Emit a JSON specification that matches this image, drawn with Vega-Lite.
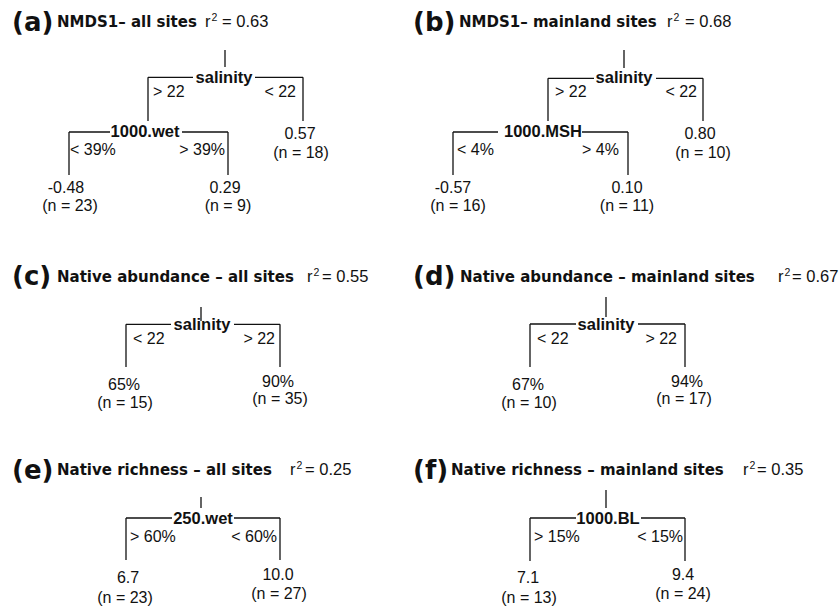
{
  "$schema": "https://vega.github.io/schema/vega-lite/v6.json",
  "width": 839,
  "height": 609,
  "autosize": "none",
  "padding": 0,
  "background": "white",
  "config": {"view": {"stroke": null}},
  "datasets": {
    "segs": [
      {"panel": "a", "x": 225, "y": 50, "x2": 225, "y2": 67},
      {"panel": "a", "x": 148, "y": 77.3, "x2": 193, "y2": 77.3},
      {"panel": "a", "x": 255, "y": 77.3, "x2": 303, "y2": 77.3},
      {"panel": "a", "x": 148, "y": 77.3, "x2": 148, "y2": 121},
      {"panel": "a", "x": 303, "y": 77.3, "x2": 303, "y2": 121},
      {"panel": "a", "x": 69, "y": 132, "x2": 110, "y2": 132},
      {"panel": "a", "x": 182, "y": 132, "x2": 228, "y2": 132},
      {"panel": "a", "x": 69, "y": 132, "x2": 69, "y2": 175},
      {"panel": "a", "x": 228, "y": 132, "x2": 228, "y2": 175},
      {"panel": "b", "x": 624, "y": 50, "x2": 624, "y2": 68},
      {"panel": "b", "x": 548, "y": 78.3, "x2": 594, "y2": 78.3},
      {"panel": "b", "x": 656, "y": 78.3, "x2": 703, "y2": 78.3},
      {"panel": "b", "x": 548, "y": 78.3, "x2": 548, "y2": 121},
      {"panel": "b", "x": 703, "y": 78.3, "x2": 703, "y2": 121},
      {"panel": "b", "x": 453, "y": 132, "x2": 498, "y2": 132},
      {"panel": "b", "x": 582, "y": 132, "x2": 628, "y2": 132},
      {"panel": "b", "x": 453, "y": 132, "x2": 453, "y2": 175},
      {"panel": "b", "x": 628, "y": 132, "x2": 628, "y2": 175},
      {"panel": "c", "x": 201, "y": 307, "x2": 201, "y2": 321},
      {"panel": "c", "x": 126, "y": 324.3, "x2": 171, "y2": 324.3},
      {"panel": "c", "x": 234, "y": 324.3, "x2": 280, "y2": 324.3},
      {"panel": "c", "x": 126, "y": 324.3, "x2": 126, "y2": 367},
      {"panel": "c", "x": 280, "y": 324.3, "x2": 280, "y2": 367},
      {"panel": "d", "x": 606, "y": 297, "x2": 606, "y2": 317},
      {"panel": "d", "x": 530, "y": 324, "x2": 576, "y2": 324},
      {"panel": "d", "x": 638, "y": 324, "x2": 685, "y2": 324},
      {"panel": "d", "x": 530, "y": 324, "x2": 530, "y2": 367},
      {"panel": "d", "x": 685, "y": 324, "x2": 685, "y2": 367},
      {"panel": "e", "x": 201, "y": 497, "x2": 201, "y2": 508},
      {"panel": "e", "x": 126, "y": 518, "x2": 172, "y2": 518},
      {"panel": "e", "x": 234, "y": 518, "x2": 280, "y2": 518},
      {"panel": "e", "x": 126, "y": 518, "x2": 126, "y2": 560},
      {"panel": "e", "x": 280, "y": 518, "x2": 280, "y2": 560},
      {"panel": "f", "x": 606, "y": 490, "x2": 606, "y2": 508},
      {"panel": "f", "x": 530, "y": 518, "x2": 576, "y2": 518},
      {"panel": "f", "x": 641, "y": 518, "x2": 685, "y2": 518},
      {"panel": "f", "x": 530, "y": 518, "x2": 530, "y2": 561},
      {"panel": "f", "x": 685, "y": 518, "x2": 685, "y2": 561}
    ],
    "labels": [
      {"kind": "letter", "x": 12, "y": 30.7, "text": "(a)"},
      {"kind": "title", "x": 57, "y": 27.3, "text": "NMDS1– all sites"},
      {"kind": "r2r", "x": 205, "y": 27.3, "text": "r"},
      {"kind": "r2sup", "x": 211.5, "y": 27.3, "text": "2"},
      {"kind": "r2val", "x": 222, "y": 27.3, "text": "= 0.63"},
      {"kind": "split", "x": 224, "y": 83.3, "text": "salinity"},
      {"kind": "condL", "x": 153, "y": 96.7, "text": "> 22"},
      {"kind": "condR", "x": 296, "y": 96.7, "text": "< 22"},
      {"kind": "split", "x": 145, "y": 137.3, "text": "1000.wet"},
      {"kind": "condL", "x": 70, "y": 155, "text": "< 39%"},
      {"kind": "condR", "x": 225, "y": 155, "text": "> 39%"},
      {"kind": "leaf", "x": 66, "y": 193, "text": "-0.48"},
      {"kind": "leaf", "x": 70, "y": 211, "text": "(n = 23)"},
      {"kind": "leaf", "x": 225, "y": 193, "text": "0.29"},
      {"kind": "leaf", "x": 228, "y": 211, "text": "(n = 9)"},
      {"kind": "leaf", "x": 300, "y": 139, "text": "0.57"},
      {"kind": "leaf", "x": 301, "y": 158, "text": "(n = 18)"},

      {"kind": "letter", "x": 413, "y": 30.7, "text": "(b)"},
      {"kind": "title", "x": 459, "y": 27.3, "text": "NMDS1– mainland sites"},
      {"kind": "r2r", "x": 667, "y": 27.3, "text": "r"},
      {"kind": "r2sup", "x": 673.5, "y": 27.3, "text": "2"},
      {"kind": "r2val", "x": 685, "y": 27.3, "text": "= 0.68"},
      {"kind": "split", "x": 624, "y": 83.3, "text": "salinity"},
      {"kind": "condL", "x": 555, "y": 96.7, "text": "> 22"},
      {"kind": "condR", "x": 697, "y": 96.7, "text": "< 22"},
      {"kind": "split", "x": 543, "y": 137.3, "text": "1000.MSH"},
      {"kind": "condL", "x": 457, "y": 155, "text": "< 4%"},
      {"kind": "condR", "x": 619, "y": 155, "text": "> 4%"},
      {"kind": "leaf", "x": 453, "y": 193, "text": "-0.57"},
      {"kind": "leaf", "x": 458, "y": 211, "text": "(n = 16)"},
      {"kind": "leaf", "x": 627, "y": 193, "text": "0.10"},
      {"kind": "leaf", "x": 627, "y": 211, "text": "(n = 11)"},
      {"kind": "leaf", "x": 700, "y": 139, "text": "0.80"},
      {"kind": "leaf", "x": 703, "y": 158, "text": "(n = 10)"},

      {"kind": "letter", "x": 12, "y": 285, "text": "(c)"},
      {"kind": "title", "x": 57, "y": 281.7, "text": "Native abundance – all sites"},
      {"kind": "r2r", "x": 307, "y": 281.7, "text": "r"},
      {"kind": "r2sup", "x": 313.5, "y": 281.7, "text": "2"},
      {"kind": "r2val", "x": 322, "y": 281.7, "text": "= 0.55"},
      {"kind": "split", "x": 202, "y": 330.3, "text": "salinity"},
      {"kind": "condL", "x": 133, "y": 344, "text": "< 22"},
      {"kind": "condR", "x": 275, "y": 344, "text": "> 22"},
      {"kind": "leaf", "x": 124, "y": 390, "text": "65%"},
      {"kind": "leaf", "x": 125, "y": 407.7, "text": "(n = 15)"},
      {"kind": "leaf", "x": 278, "y": 386.7, "text": "90%"},
      {"kind": "leaf", "x": 280, "y": 404.3, "text": "(n = 35)"},

      {"kind": "letter", "x": 413, "y": 285, "text": "(d)"},
      {"kind": "title", "x": 460, "y": 281.7, "text": "Native abundance – mainland sites"},
      {"kind": "r2r", "x": 778, "y": 281.7, "text": "r"},
      {"kind": "r2sup", "x": 784.5, "y": 281.7, "text": "2"},
      {"kind": "r2val", "x": 792, "y": 281.7, "text": "= 0.67"},
      {"kind": "split", "x": 606, "y": 330.3, "text": "salinity"},
      {"kind": "condL", "x": 537, "y": 344, "text": "< 22"},
      {"kind": "condR", "x": 677, "y": 344, "text": "> 22"},
      {"kind": "leaf", "x": 528, "y": 390, "text": "67%"},
      {"kind": "leaf", "x": 529, "y": 407.7, "text": "(n = 10)"},
      {"kind": "leaf", "x": 687, "y": 386.7, "text": "94%"},
      {"kind": "leaf", "x": 684, "y": 404.3, "text": "(n = 17)"},

      {"kind": "letter", "x": 12, "y": 478.5, "text": "(e)"},
      {"kind": "title", "x": 57, "y": 475, "text": "Native richness – all sites"},
      {"kind": "r2r", "x": 290, "y": 475, "text": "r"},
      {"kind": "r2sup", "x": 296.5, "y": 475, "text": "2"},
      {"kind": "r2val", "x": 305, "y": 475, "text": "= 0.25"},
      {"kind": "split", "x": 203, "y": 524, "text": "250.wet"},
      {"kind": "condL", "x": 130, "y": 541.7, "text": "> 60%"},
      {"kind": "condR", "x": 277, "y": 541.7, "text": "< 60%"},
      {"kind": "leaf", "x": 128, "y": 583, "text": "6.7"},
      {"kind": "leaf", "x": 125, "y": 602.7, "text": "(n = 23)"},
      {"kind": "leaf", "x": 278, "y": 580, "text": "10.0"},
      {"kind": "leaf", "x": 279, "y": 599, "text": "(n = 27)"},

      {"kind": "letter", "x": 413, "y": 478.5, "text": "(f)"},
      {"kind": "title", "x": 451, "y": 475, "text": "Native richness – mainland sites"},
      {"kind": "r2r", "x": 743, "y": 475, "text": "r"},
      {"kind": "r2sup", "x": 749.5, "y": 475, "text": "2"},
      {"kind": "r2val", "x": 757, "y": 475, "text": "= 0.35"},
      {"kind": "split", "x": 608, "y": 524, "text": "1000.BL"},
      {"kind": "condL", "x": 534, "y": 541.7, "text": "> 15%"},
      {"kind": "condR", "x": 683, "y": 541.7, "text": "< 15%"},
      {"kind": "leaf", "x": 528, "y": 583, "text": "7.1"},
      {"kind": "leaf", "x": 529, "y": 602.7, "text": "(n = 13)"},
      {"kind": "leaf", "x": 683, "y": 580, "text": "9.4"},
      {"kind": "leaf", "x": 683, "y": 599, "text": "(n = 24)"}
    ]
  },
  "encoding": {
    "x": {"field": "x", "type": "quantitative", "scale": {"domain": [0, 839], "nice": false, "zero": false}, "axis": null},
    "y": {"field": "y", "type": "quantitative", "scale": {"domain": [0, 609], "nice": false, "zero": false, "reverse": true}, "axis": null}
  },
  "layer": [
    {
      "data": {"name": "segs"},
      "mark": {"type": "rule", "color": "#111111", "strokeWidth": 1.3},
      "encoding": {
        "x2": {"field": "x2"},
        "y2": {"field": "y2"}
      }
    },
    {
      "data": {"name": "labels"},
      "transform": [{"filter": "datum.kind === 'letter'"}],
      "mark": {"type": "text", "font": "DejaVu Sans", "fontWeight": "bold", "fontSize": 26, "align": "left", "baseline": "alphabetic", "color": "#111111"},
      "encoding": {"text": {"field": "text"}}
    },
    {
      "data": {"name": "labels"},
      "transform": [{"filter": "datum.kind === 'title'"}],
      "mark": {"type": "text", "font": "DejaVu Sans", "fontWeight": "bold", "fontSize": 15, "align": "left", "baseline": "alphabetic", "color": "#111111"},
      "encoding": {"text": {"field": "text"}}
    },
    {
      "data": {"name": "labels"},
      "transform": [{"filter": "datum.kind === 'r2r' || datum.kind === 'r2val'"}],
      "mark": {"type": "text", "font": "Liberation Sans", "fontSize": 16.5, "align": "left", "baseline": "alphabetic", "color": "#111111"},
      "encoding": {"text": {"field": "text"}}
    },
    {
      "data": {"name": "labels"},
      "transform": [{"filter": "datum.kind === 'r2sup'"}],
      "mark": {"type": "text", "font": "Liberation Sans", "fontSize": 10.5, "align": "left", "baseline": "alphabetic", "dy": -6, "color": "#111111"},
      "encoding": {"text": {"field": "text"}}
    },
    {
      "data": {"name": "labels"},
      "transform": [{"filter": "datum.kind === 'split'"}],
      "mark": {"type": "text", "font": "Liberation Sans", "fontWeight": "bold", "fontSize": 16.5, "align": "center", "baseline": "alphabetic", "color": "#111111"},
      "encoding": {"text": {"field": "text"}}
    },
    {
      "data": {"name": "labels"},
      "transform": [{"filter": "datum.kind === 'condL'"}],
      "mark": {"type": "text", "font": "Liberation Sans", "fontSize": 16, "align": "left", "baseline": "alphabetic", "color": "#111111"},
      "encoding": {"text": {"field": "text"}}
    },
    {
      "data": {"name": "labels"},
      "transform": [{"filter": "datum.kind === 'condR'"}],
      "mark": {"type": "text", "font": "Liberation Sans", "fontSize": 16, "align": "right", "baseline": "alphabetic", "color": "#111111"},
      "encoding": {"text": {"field": "text"}}
    },
    {
      "data": {"name": "labels"},
      "transform": [{"filter": "datum.kind === 'leaf'"}],
      "mark": {"type": "text", "font": "Liberation Sans", "fontSize": 16, "align": "center", "baseline": "alphabetic", "color": "#111111"},
      "encoding": {"text": {"field": "text"}}
    }
  ]
}
